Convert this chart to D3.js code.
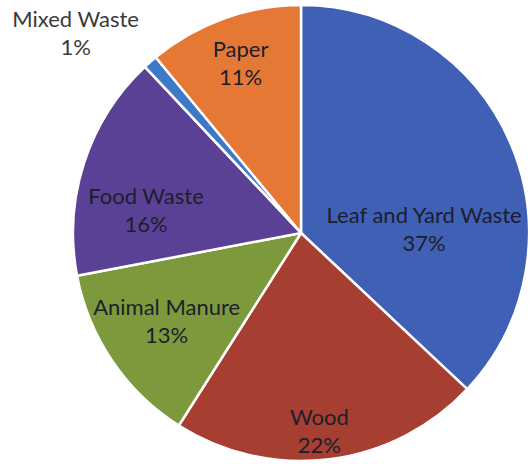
<!DOCTYPE html>
<html><head><meta charset="utf-8">
<script src="https://cdn.jsdelivr.net/npm/d3@7"></script>
<style>html,body{margin:0;padding:0;background:#fff;}</style>
</head><body>
<svg id="chart" width="530" height="464"></svg>
<script>
const categories = ["Leaf and Yard Waste", "Wood", "Animal Manure", "Food Waste", "Mixed Waste", "Paper"];
const values = [37, 22, 13, 16, 1, 11];
const percentLabels = ["37%", "22%", "13%", "16%", "1%", "11%"];
const colors = ["#4060b6", "#a63e31", "#7c9a3b", "#5b4195", "#3d79c8", "#e67836"];
// label placement: angle (deg, clockwise from top) and radius fraction
const labelAngle = [90, 174.8, 235.5, 277, 311, 340];
const labelRadius = [0.54, 0.89, 0.715, 0.685, 1.31, 0.775];

const svg = d3.select("#chart");
const cx = 301, cy = 233, R = 228;
const g = svg.append("g").attr("transform", `translate(${cx},${cy})`);
const data = categories.map((c, i) => ({cat: c, value: values[i], pct: percentLabels[i], color: colors[i], i}));
const pie = d3.pie().sort(null).value(d => d.value);
const arc = d3.arc().innerRadius(0).outerRadius(R);
g.selectAll("path").data(pie(data)).join("path")
  .attr("d", arc).attr("fill", d => d.data.color)
  .attr("stroke", "#fff").attr("stroke-width", 2.5).attr("stroke-linejoin", "round");

const lbl = g.selectAll("text.lbl").data(data).join("text").attr("class", "lbl")
  .attr("text-anchor", "middle")
  .attr("font-family", "Lato, 'Open Sans', sans-serif")
  .attr("font-size", 22)
  .attr("fill", d => d.i === 4 ? "#3a3a3a" : "#1c1e2c")
  .attr("transform", d => {
    const a = labelAngle[d.i] * Math.PI / 180, r = labelRadius[d.i] * R;
    return `translate(${r * Math.sin(a)},${-r * Math.cos(a)})`;
  });
lbl.append("tspan").attr("x", 0).attr("y", -10).text(d => d.cat);
lbl.append("tspan").attr("x", 0).attr("y", 18).text(d => d.pct);
</script>
</body></html>
